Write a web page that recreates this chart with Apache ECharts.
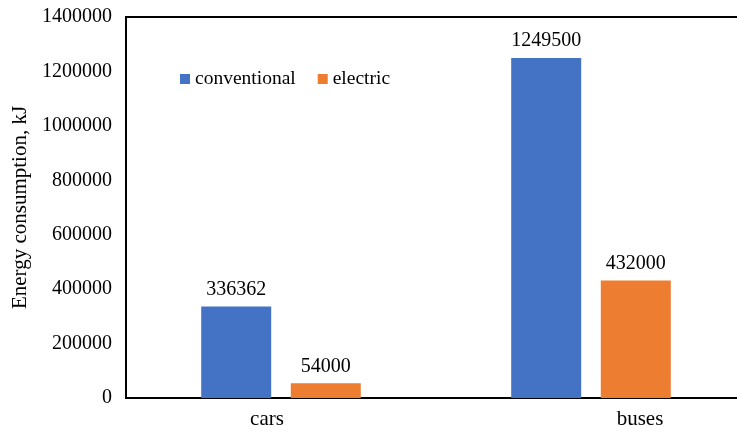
<!DOCTYPE html>
<html><head><meta charset="utf-8">
<script src="https://cdn.jsdelivr.net/npm/echarts@6/dist/echarts.min.js"></script>
<style>html,body{margin:0;padding:0;background:#fff}#c{width:737px;height:432px}</style>
</head><body><div id="c"></div>
<script>
const categories = ['cars', 'buses'];
const conventional = [336362, 1249500];
const electric = [54000, 432000];
const seriesNames = ['conventional', 'electric'];
const yTicks = {min: 0, max: 1400000, interval: 200000};

const font = 'Liberation Serif';
const chart = echarts.init(document.getElementById('c'));
const lbl = {show: true, position: 'top', distance: 7, color: '#000', fontFamily: font, fontSize: 20};
chart.setOption({
  animation: false,
  grid: {left: 126, width: 620, top: 17, bottom: 34, show: true, borderColor: '#000', borderWidth: 2,
         outerBoundsMode: 'none', containLabel: false},
  legend: {
    left: 175, top: 64, itemWidth: 10, itemHeight: 10, itemGap: 22, icon: 'rect',
    textStyle: {fontFamily: font, fontSize: 19.5, color: '#000'},
    data: seriesNames
  },
  xAxis: {
    type: 'category',
    data: [
      {value: categories[0], textStyle: {padding: [0, 28, 0, 0]}},
      {value: categories[1], textStyle: {padding: [0, 0, 0, 98]}}
    ],
    axisLine: {lineStyle: {color: '#000', width: 2}},
    axisTick: {show: false},
    axisLabel: {fontFamily: font, fontSize: 21, color: '#000', margin: 11}
  },
  yAxis: {
    type: 'value', min: yTicks.min, max: yTicks.max, interval: yTicks.interval,
    name: 'Energy consumption, kJ', nameLocation: 'middle', nameGap: 93,
    nameTextStyle: {fontFamily: font, fontSize: 21, color: '#000'},
    axisLine: {show: true, lineStyle: {color: '#000', width: 2}},
    axisTick: {show: false},
    splitLine: {show: false},
    axisLabel: {fontFamily: font, fontSize: 20, color: '#000', margin: 14, formatter: v => String(v)}
  },
  series: [
    {name: seriesNames[0], type: 'bar', data: conventional, barWidth: 70, barGap: '28%', barCategoryGap: '48%',
     itemStyle: {color: '#4472C4'}, label: lbl},
    {name: seriesNames[1], type: 'bar', data: electric, barWidth: 70,
     itemStyle: {color: '#ED7D31'}, label: lbl}
  ]
});
</script></body></html>
